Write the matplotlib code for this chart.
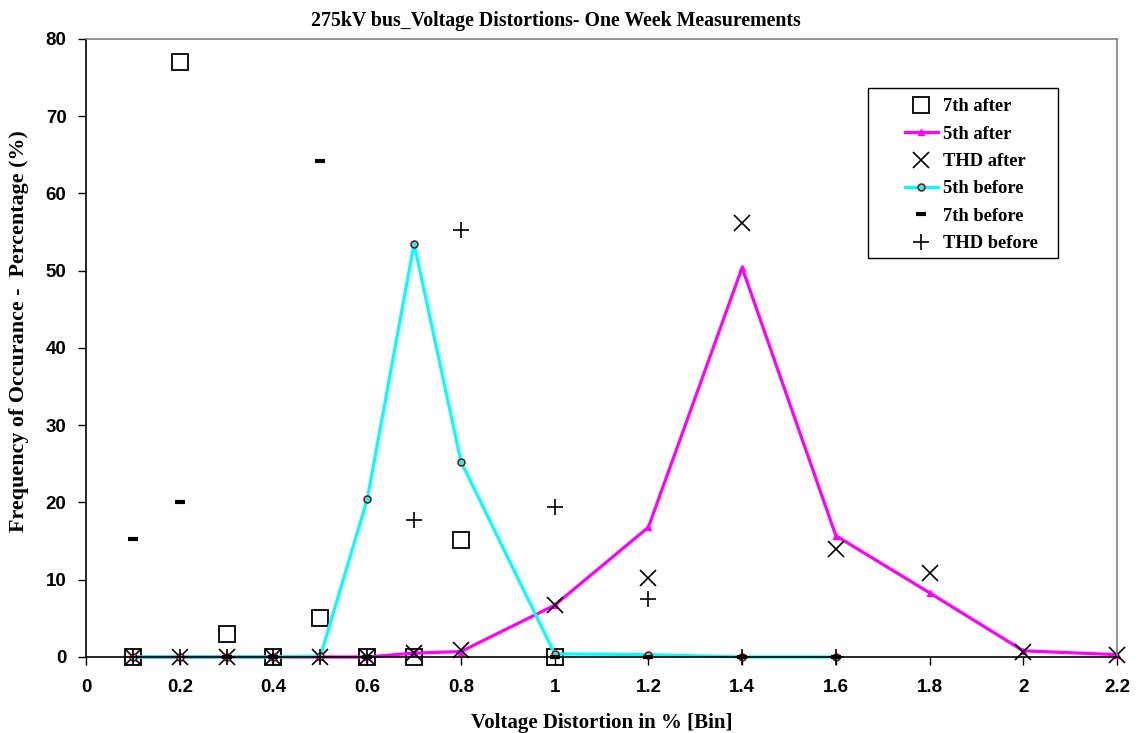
import matplotlib
matplotlib.use("Agg")
import matplotlib.pyplot as plt
from matplotlib.patches import Rectangle

# distortion bins (%)
bins = [0.1, 0.2, 0.3, 0.4, 0.5, 0.6, 0.7, 0.8, 1.0, 1.2, 1.4, 1.6, 1.8, 2.0, 2.2]

# frequency of occurrence (%) per bin
seventh_after_x = [0.1, 0.2, 0.3, 0.4, 0.5, 0.6, 0.7, 0.8, 1.0]
seventh_after = [0, 77.0, 3.0, 0, 5.0, 0, 0, 15.1, 0]

fifth_after = [0, 0, 0, 0, 0, 0, 0.5, 0.7, 6.7, 16.8, 50.4, 15.7, 8.3, 0.8, 0.3]

thd_after = [0, 0, 0, 0, 0, 0, 0.5, 0.9, 6.7, 10.2, 56.2, 14.0, 10.9, 0.7, 0.3]

fifth_before_x = [0.1, 0.2, 0.3, 0.4, 0.5, 0.6, 0.7, 0.8, 1.0, 1.2, 1.4, 1.6]
fifth_before = [0, 0, 0, 0, 0.1, 20.4, 53.5, 25.3, 0.4, 0.3, 0, 0]

seventh_before_x = [0.1, 0.2, 0.3, 0.4, 0.5, 0.6, 1.0, 1.2, 1.4, 1.6]
seventh_before = [15.3, 20.0, 0, 0, 64.2, 0, 0, 0, 0, 0]

thd_before_x = [0.1, 0.2, 0.3, 0.4, 0.5, 0.6, 0.7, 0.8, 1.0, 1.2, 1.4, 1.6]
thd_before = [0, 0, 0, 0, 0, 0, 17.7, 55.3, 19.4, 7.5, 0, 0]

xticks = [0, 0.2, 0.4, 0.6, 0.8, 1, 1.2, 1.4, 1.6, 1.8, 2, 2.2]
xticklabels = ["0", "0.2", "0.4", "0.6", "0.8", "1", "1.2", "1.4", "1.6", "1.8", "2", "2.2"]

serif = "Liberation Serif"
sans = "Liberation Sans"

fig = plt.figure(figsize=(11.41, 7.33), dpi=100)
ax = fig.add_axes([0.0754, 0.1037, 0.9036, 0.8431])

ax.plot(seventh_after_x, seventh_after, ls="none", marker="s", ms=11,
        mfc="none", mec="black", mew=1.3, label="7th after")
ax.plot(bins, fifth_after, color="#ff00ff", lw=2.3, marker="^", ms=5,
        mfc="#ff00ff", mec="#ff00ff", label="5th after")
ax.plot(bins, thd_after, ls="none", marker="x", ms=12, mec="black",
        mew=1.2, label="THD after")
ax.plot(fifth_before_x, fifth_before, color="#00ffff", lw=2.3, marker="o",
        ms=5, mfc="#00ffff", mec="#990000", mew=1.1, label="5th before")
ax.plot(seventh_before_x, seventh_before, ls="none", marker="_", ms=7,
        mec="black", mew=3, label="7th before")
ax.plot(thd_before_x, thd_before, ls="none", marker="+", ms=12, mec="black",
        mew=1.2, label="THD before")

ax.set_xlim(0, 2.2)
ax.set_ylim(0, 80)
ax.set_xticks(xticks)
ax.set_xticklabels(xticklabels)
ax.set_yticks(range(0, 81, 10))
ax.tick_params(direction="out", length=6, width=1, colors="black")
ax.tick_params(axis="x", pad=10)
ax.tick_params(axis="y", pad=8)
for lab in ax.get_xticklabels() + ax.get_yticklabels():
    lab.set_fontfamily(sans)
    lab.set_fontweight("bold")
    lab.set_fontsize(13.5)

ax.spines["left"].set_color("black")
ax.spines["bottom"].set_color("black")
ax.spines["top"].set_color("#808080")
ax.spines["right"].set_color("#808080")
for s in ax.spines.values():
    s.set_linewidth(1.2)
for ln in ax.lines:
    ln.set_clip_on(False)

fig.text(0.487, 0.972, "275kV bus_Voltage Distortions- One Week Measurements",
         ha="center", va="center", fontfamily=serif, fontweight="bold",
         fontsize=14.3)
ax.set_xlabel("Voltage Distortion in % [Bin]", fontfamily=serif,
              fontweight="bold", fontsize=15, labelpad=12)
ax.set_ylabel("Frequency of Occurance -  Percentage (%)", fontfamily=serif,
              fontweight="bold", fontsize=15.8)
ax.yaxis.set_label_coords(-0.0555, 0.527)

# legend box drawn separately so the entries can sit off-centre in it
ax.add_patch(Rectangle((0.758, 0.646), 0.185, 0.275, transform=ax.transAxes,
                       facecolor="white", edgecolor="black", lw=1.0,
                       zorder=4.5, clip_on=False))
leg = ax.legend(loc="upper left", bbox_to_anchor=(0.794, 0.904),
                prop={"family": serif, "weight": "bold", "size": 13.3},
                frameon=False, handlelength=1.8, handletextpad=0.27,
                labelspacing=0.56, borderpad=0, borderaxespad=0)
leg.set_zorder(5)

fig.savefig("out.png", dpi=100)
